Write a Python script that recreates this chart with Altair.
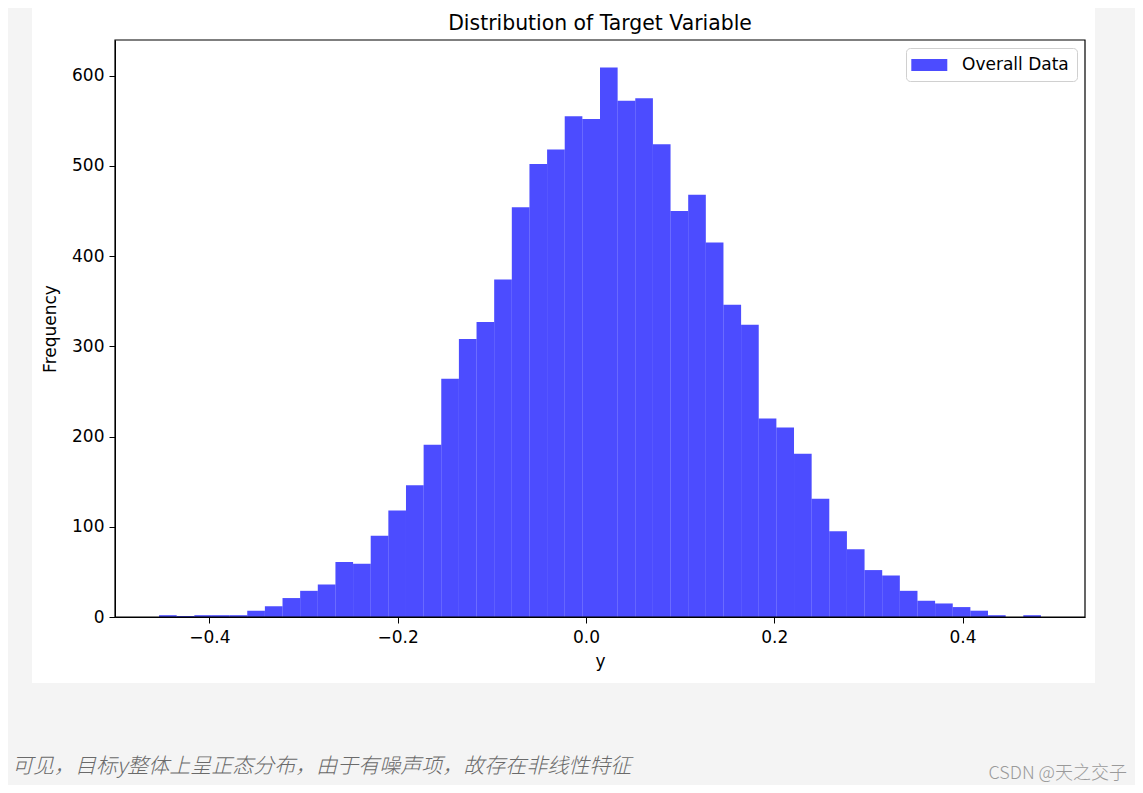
import altair as alt
import pandas as pd
import numpy as np

# ---- data (50 bins) ----
bin_lo = -0.4535
bin_hi = 0.4833
counts = [2, 1, 2, 2, 2, 7, 12, 21, 29, 36, 61, 59, 90, 118, 146, 191, 264,
          308, 327, 374, 454, 502, 518, 555, 552, 609, 572, 575, 524, 450, 468, 415, 346, 324,
          220, 210, 181, 131, 95, 75, 52, 46, 29, 18, 15, 11, 7, 2, 0, 2]
series_name = "Overall Data"
x_ticks = [-0.4, -0.2, 0.0, 0.2, 0.4]
y_ticks = [0, 100, 200, 300, 400, 500, 600]
title_text = "Distribution of Target Variable"
x_title = "y"
y_title = "Frequency"
caption = "可见，目标y整体上呈正态分布，由于有噪声项，故存在非线性特征"
watermark = "CSDN @天之交子"

edges = np.linspace(bin_lo, bin_hi, len(counts) + 1)
hist = pd.DataFrame({
    "start": edges[:-1],
    "end": edges[1:],
    "count": counts,
    "series": series_name,
})

W, H = 970, 577
FS = 17

xscale = alt.Scale(domain=[-0.5003, 0.5301], nice=False, zero=False)
yscale = alt.Scale(domain=[0, 639.45], nice=False)

panel = alt.Chart(alt.Data(values=[{"a": 1}])).mark_rect(color="white").encode(
    x=alt.value(-83), x2=alt.value(980), y=alt.value(-32), y2=alt.value(643)
)

bars = alt.Chart(hist).mark_bar(opacity=0.7, strokeWidth=0).encode(
    x=alt.X("start:Q", scale=xscale,
            axis=alt.Axis(values=x_ticks, format=".1f", title=x_title,
                          labelExpr="replace(datum.label, '-', '\u2212')",
                          grid=False, zindex=1, tickSize=6, labelPadding=6,
                          titlePadding=8, labelFontSize=FS, titleFontSize=FS,
                          titleFontWeight="normal", domainColor="black",
                          tickColor="black", labelColor="black", titleColor="black",
                          labelFont="DejaVu Sans", titleFont="DejaVu Sans")),
    x2="end:Q",
    y=alt.Y("count:Q", scale=yscale,
            axis=alt.Axis(values=y_ticks, title=y_title, grid=False, zindex=1,
                          tickSize=6, labelPadding=5, titlePadding=12,
                          labelFontSize=FS, titleFontSize=FS, titleFontWeight="normal",
                          domainColor="black", tickColor="black", labelColor="black",
                          titleColor="black", labelFont="DejaVu Sans",
                          titleFont="DejaVu Sans")),
    y2=alt.datum(0),
    color=alt.Color("series:N", scale=alt.Scale(range=["#0000ff"]),
                    legend=alt.Legend(title=None, orient="top-right", offset=8,
                                      padding=8, strokeColor="#d0d0d0",
                                      fillColor="white", cornerRadius=4,
                                      labelFontSize=FS, labelFont="DejaVu Sans",
                                      labelColor="black", labelOffset=30,
                                      symbolType="M-1.3,-0.667H2.7V0.667H-1.3Z",
                                      symbolSize=324, symbolStrokeWidth=0,
                                      symbolOpacity=0.7, zindex=1)),
)

frame = alt.Chart(alt.Data(values=[{"a": 1}])).mark_rect(
    fillOpacity=0, stroke="black", strokeWidth=1.2
).encode(x=alt.value(0), x2=alt.value(W), y=alt.value(0), y2=alt.value(H))

cap = alt.Chart(alt.Data(values=[{"t": caption}])).mark_text(
    align="left", baseline="middle", fontSize=21, fontStyle="italic",
    fontWeight=300, font="Noto Sans CJK SC", color="#6a6a6a"
).encode(x=alt.value(-103), y=alt.value(727), text="t:N")

wm = alt.Chart(alt.Data(values=[{"t": watermark}])).mark_text(
    align="right", baseline="middle", fontSize=18, fontWeight=300,
    font="Noto Sans CJK SC", color="#9a9a9a"
).encode(x=alt.value(1012), y=alt.value(734), text="t:N")

chart = alt.layer(panel, bars, frame, cap, wm).properties(
    width=W, height=H,
    title=alt.TitleParams(title_text, fontSize=20.4, font="DejaVu Sans",
                          fontWeight="normal", color="black", offset=0, dy=26,
                          zindex=1),
    autosize=alt.AutoSizeParams(type="none"),
    padding={"left": 107, "top": 32, "right": 50, "bottom": 168},
).configure(background="#f4f4f4").configure_view(stroke="black", strokeWidth=1.2)

chart.save("out.html", embed_options={"renderer": "svg", "actions": False})
